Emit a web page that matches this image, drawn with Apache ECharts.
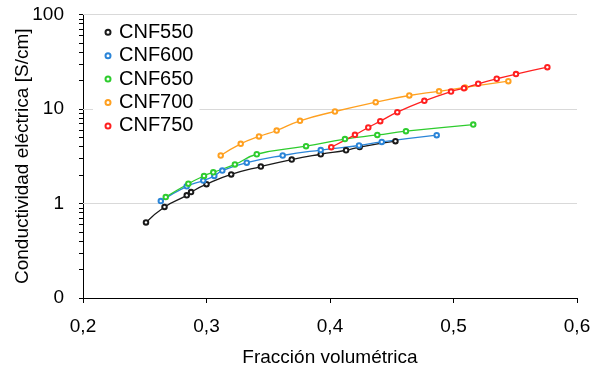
<!DOCTYPE html>
<html><head><meta charset="utf-8">
<script src="https://cdn.jsdelivr.net/npm/echarts@6/dist/echarts.min.js"></script>
<style>html,body{margin:0;padding:0;background:#fff}#c{width:594px;height:370px}</style>
</head><body><div id="c"></div>
<script>
const seriesNames = ['CNF550', 'CNF600', 'CNF650', 'CNF700', 'CNF750'];
const seriesColors = ['#1a1a1a', '#2b85d8', '#2ecc2e', '#ffa020', '#ff2020'];

const x550 = [0.251, 0.266, 0.284, 0.2875, 0.300, 0.320, 0.344, 0.369, 0.3925, 0.413, 0.424, 0.453];
const y550 = [0.63, 0.92, 1.22, 1.32, 1.60, 2.03, 2.46, 2.92, 3.32, 3.66, 3.96, 4.56];

const x600 = [0.263, 0.284, 0.2974, 0.3063, 0.3128, 0.3326, 0.3617, 0.3925, 0.4235, 0.4419, 0.4864];
const y600 = [1.06, 1.52, 1.75, 1.96, 2.23, 2.70, 3.22, 3.68, 4.11, 4.48, 5.28];

const x650 = [0.267, 0.2853, 0.298, 0.3055, 0.323, 0.3407, 0.3806, 0.4121, 0.4383, 0.4615, 0.516];
const y650 = [1.17, 1.62, 1.96, 2.14, 2.59, 3.32, 4.04, 4.81, 5.31, 5.82, 6.85];

const x700 = [0.3115, 0.3277, 0.3425, 0.3568, 0.3757, 0.404, 0.437, 0.4642, 0.4883, 0.5093, 0.5444];
const y700 = [3.22, 4.28, 5.12, 5.92, 7.50, 9.41, 11.8, 13.9, 15.4, 16.9, 19.7];

const x750 = [0.401, 0.4202, 0.431, 0.4407, 0.4545, 0.4764, 0.498, 0.5085, 0.520, 0.535, 0.5506, 0.576];
const y750 = [3.94, 5.33, 6.37, 7.43, 9.25, 12.2, 15.3, 16.6, 18.5, 20.9, 23.4, 27.7];

const xTicks = [0.2, 0.3, 0.4, 0.5, 0.6];
const yTickLabels = ['0', '1', '10', '100'];
const yDecades = [0.1, 1, 10, 100];

const xs = [x550, x600, x650, x700, x750];
const ys = [y550, y600, y650, y700, y750];

// real-space tick values for the log axis: decades plus minor 2..9
const yTickValues = [];
for (let d = 0; d < yDecades.length; d++) {
  yTickValues.push(yDecades[d]);
  if (d < yDecades.length - 1) for (let k = 2; k <= 9; k++) yTickValues.push(+(k * yDecades[d]).toPrecision(3));
}

const FONT = 'Liberation Sans, Arial, sans-serif';
const chart = echarts.init(document.getElementById('c'), null, {renderer: 'canvas'});

const series = seriesNames.map((n, i) => {
  const s = {
    name: n,
    type: 'line',
    smooth: 0.5,
    data: xs[i].map((x, j) => [x, ys[i][j]]),
    symbol: 'emptyCircle',
    symbolSize: 4.5,
    showSymbol: true,
    lineStyle: {color: seriesColors[i], width: 1.3},
    itemStyle: {color: seriesColors[i], borderColor: seriesColors[i], borderWidth: 1},
    emphasis: {disabled: true},
    animation: false
  };
  if (i === 0) {
    // horizontal gridlines at the decades only (behind the curves)
    s.markLine = {
      silent: true,
      z: 1,
      symbol: ['none', 'none'],
      label: {show: false},
      lineStyle: {color: '#d9d9d9', width: 1, type: 'solid'},
      emphasis: {disabled: true},
      animation: false,
      data: yDecades.slice(1).map(v => ({yAxis: v}))
    };
  }
  return s;
});

chart.setOption({
  animation: false,
  backgroundColor: '#fff',
  textStyle: {fontFamily: FONT},
  grid: {left: 83, right: 17, top: 14.5, bottom: 72, containLabel: false, outerBoundsMode: 'none'},
  legend: {
    orient: 'vertical',
    left: 93,
    top: 18.3,
    itemGap: 3.4,
    itemWidth: 5,
    itemHeight: 5,
    padding: [4, 6, 4, 11.5],
    backgroundColor: '#fff',
    z: 10,
    icon: 'emptyCircle',
    data: seriesNames,
    textStyle: {fontFamily: FONT, fontSize: 20, color: '#000', padding: [0, 0, 0, 3.5]}
  },
  xAxis: {
    type: 'value',
    min: xTicks[0],
    max: xTicks[xTicks.length - 1],
    interval: 0.1,
    name: 'Fracción volumétrica',
    nameLocation: 'middle',
    nameGap: 50,
    nameMoveOverlap: false,
    nameTextStyle: {fontFamily: FONT, fontSize: 19, color: '#000'},
    axisLine: {show: true, lineStyle: {color: '#000', width: 1}},
    axisTick: {show: true, inside: false, length: 5, lineStyle: {color: '#000', width: 1}},
    axisLabel: {fontFamily: FONT, fontSize: 19, color: '#000', margin: 19,
      formatter: v => v.toFixed(1).replace('.', ',')},
    splitLine: {show: false}
  },
  yAxis: {
    type: 'log',
    logBase: 10,
    min: yDecades[0],
    max: yDecades[yDecades.length - 1],
    name: 'Conductividad eléctrica [S/cm]',
    nameLocation: 'middle',
    nameGap: 51,
    nameMoveOverlap: false,
    nameTextStyle: {fontFamily: FONT, fontSize: 19, color: '#000'},
    axisLine: {show: true, lineStyle: {color: '#000', width: 1}},
    axisTick: {show: true, inside: false, length: 4, customValues: yTickValues, lineStyle: {color: '#000', width: 1}},
    axisLabel: {fontFamily: FONT, fontSize: 19, color: '#000', margin: 19,
      customValues: yDecades,
      formatter: v => yTickLabels[yDecades.findIndex(d => Math.abs(d - v) < d * 1e-6)] ?? ''},
    splitLine: {show: false}
  },
  series: series
});
</script></body></html>
